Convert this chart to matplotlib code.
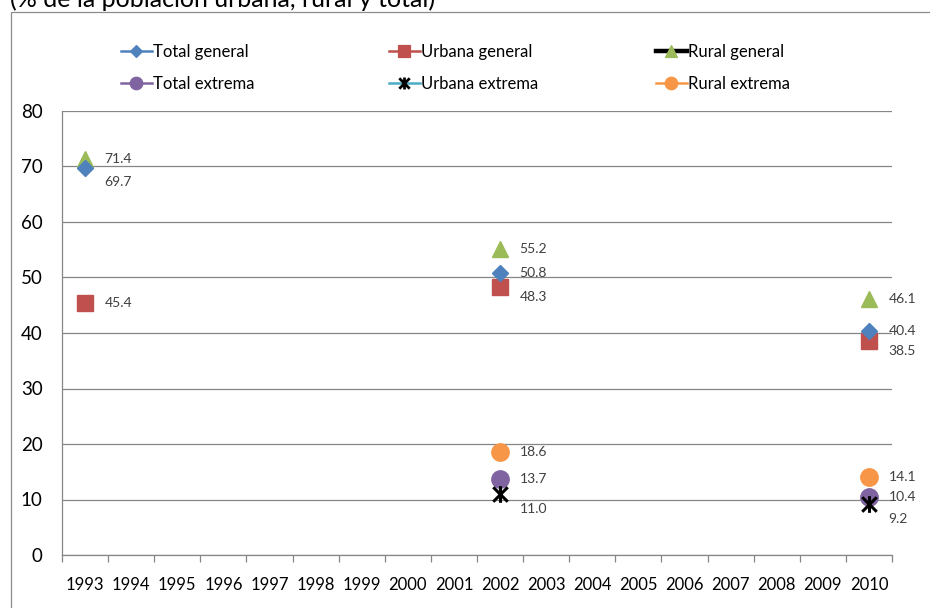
import matplotlib
matplotlib.use("Agg")
import matplotlib.pyplot as plt
import numpy as np
from matplotlib.path import Path
from matplotlib.lines import Line2D
from matplotlib.patches import Rectangle

plt.rcParams["font.family"] = ["Lato", "DejaVu Sans"]

# Category axis: every year from 1993 to 2010
years = [str(y) for y in range(1993, 2011)]
survey_years = ["1993", "2002", "2010"]

# Poverty rates (% of population); None where no survey value exists
total_general = [69.7, 50.8, 40.4]
urbana_general = [45.4, 48.3, 38.5]
rural_general = [71.4, 55.2, 46.1]
total_extrema = [None, 13.7, 10.4]
urbana_extrema = [None, 11.0, 9.2]
rural_extrema = [None, 18.6, 14.1]

series_names = ["Total general", "Urbana general", "Rural general",
                "Total extrema", "Urbana extrema", "Rural extrema"]
series_values = [total_general, urbana_general, rural_general,
                 total_extrema, urbana_extrema, rural_extrema]

# Asterisk-style marker: an X crossed by a vertical stroke
star_marker = Path(
    [(-1, -1), (1, 1), (-1, 1), (1, -1), (0, -1.15), (0, 1.15)],
    [Path.MOVETO, Path.LINETO, Path.MOVETO, Path.LINETO, Path.MOVETO, Path.LINETO],
)

styles = {
    "Total general": dict(marker="D", ms=8.2, mfc="#4F81BD", mec="#4F81BD",
                          line="#4F81BD", lw=1.8, zorder=5),
    "Urbana general": dict(marker="s", ms=12, mfc="#C0504D", mec="#C0504D",
                           line="#C0504D", lw=1.8, zorder=4),
    "Rural general": dict(marker="^", ms=12, mfc="#9BBB59", mec="#9BBB59",
                          line="#000000", lw=3.2, zorder=3),
    "Total extrema": dict(marker="o", ms=12.5, mfc="#8064A2", mec="#8064A2",
                          line="#8064A2", lw=1.8, zorder=4),
    "Urbana extrema": dict(marker=star_marker, ms=12, mfc="none", mec="#000000",
                           line="#4BACC6", lw=1.8, zorder=6, mew=2.2),
    "Rural extrema": dict(marker="o", ms=12.5, mfc="#F79646", mec="#F79646",
                          line="#F79646", lw=1.8, zorder=3),
}

# Label offsets in points (dx, dy) for labels that sit below their marker
label_shift = {
    ("Total general", "1993"): (14, -10),
    ("Urbana general", "2002"): (14, -7),
    ("Urbana general", "2010"): (14, -7),
    ("Urbana extrema", "2002"): (14, -11),
    ("Urbana extrema", "2010"): (14, -11),
}

W, H = 930, 608
fig = plt.figure(figsize=(W / 100, H / 100), dpi=100)

# Outer chart frame
fig.add_artist(Rectangle((11 / W, -0.1), 1.2, 1.1 - 12 / H, transform=fig.transFigure,
                         fill=False, edgecolor="#8C8C8C", linewidth=0.9))

fig.text(10 / W, 1 - 7 / H, "(% de la población urbana, rural y total)",
         fontsize=18, color="#000000", ha="left", va="baseline")

ax = fig.add_axes([62 / W, 1 - 555 / H, (892 - 62) / W, (555 - 111) / H])

x_idx = [years.index(y) for y in survey_years]
for name, vals in zip(series_names, series_values):
    st = styles[name]
    yv = [np.nan if v is None else v for v in vals]
    ax.plot(x_idx, yv, linestyle="none", marker=st["marker"], markersize=st["ms"],
            markerfacecolor=st["mfc"], markeredgecolor=st["mec"],
            markeredgewidth=st.get("mew", 1), zorder=st["zorder"], clip_on=False)
    for xi, yr, v in zip(x_idx, survey_years, vals):
        if v is None:
            continue
        dx, dy = label_shift.get((name, yr), (14, 0))
        ax.annotate(f"{v:.1f}", (xi, v), xytext=(dx, dy), textcoords="offset points",
                    ha="left", va="center", fontsize=10, color="#404040", zorder=7)

ax.set_xlim(-0.5, len(years) - 0.5)
ax.set_ylim(0, 80)
ax.set_yticks(np.arange(0, 81, 10))
ax.set_xticks(range(len(years)))
ax.set_xticklabels(years)
ax.set_xticks(np.arange(-0.5, len(years), 1), minor=True)
ax.tick_params(axis="x", which="major", length=0, pad=16, labelsize=12, labelcolor="#000000")
ax.tick_params(axis="x", which="minor", length=5, width=0.9, color="#868686", direction="out")
ax.tick_params(axis="y", length=0, pad=14, labelsize=13.5, labelcolor="#000000")
ax.yaxis.grid(True, color="#868686", linewidth=0.9)
ax.set_axisbelow(True)
for side in ("top", "right"):
    ax.spines[side].set_visible(False)
for side in ("left", "bottom"):
    ax.spines[side].set_color("#868686")
    ax.spines[side].set_linewidth(0.9)

# Legend: three columns of two rows
def handle(name):
    st = styles[name]
    ms = st["ms"] * 0.72
    return Line2D([0], [0], color=st["line"], linewidth=st["lw"], marker=st["marker"],
                  markersize=ms, markerfacecolor=st["mfc"], markeredgecolor=st["mec"],
                  markeredgewidth=st.get("mew", 1) * 0.9)

columns = [("Total general", "Total extrema"),
           ("Urbana general", "Urbana extrema"),
           ("Rural general", "Rural extrema")]
col_x = [121, 389, 656]
for cx, pair in zip(col_x, columns):
    fig.legend([handle(n) for n in pair], list(pair),
               loc="upper left", bbox_to_anchor=(cx / W, 1 - 44 / H),
               frameon=False, fontsize=12, handlelength=1.85, handletextpad=0.05,
               labelspacing=0.95, borderpad=0, borderaxespad=0)

fig.savefig("out.png", dpi=100)
